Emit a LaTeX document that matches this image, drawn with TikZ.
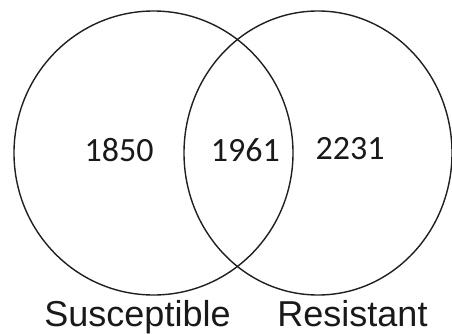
\documentclass[tikz,border=0pt]{standalone}
\usepackage{fontspec}
\newfontfamily\numfont{Carlito}
\newfontfamily\labfont{Liberation Sans}
\begin{document}
\begin{tikzpicture}[x=1pt,y=-1pt,
  setline/.style={draw=black!88,line width=1.4pt},
  numtxt/.style={font=\numfont\fontsize{34}{40}\selectfont,anchor=base,inner sep=0pt,text=black!90},
  labtxt/.style={font=\labfont\fontsize{36}{42}\selectfont,anchor=base,inner sep=0pt,text=black!90}]
\useasboundingbox (0,0) rectangle (452,334);
\draw[setline] (153.5,153) ellipse [x radius=139.5,y radius=142];
\draw[setline] (318,153) ellipse [x radius=134,y radius=142];
\node[numtxt] (a) at (119,161.7) {1850};
\node[numtxt] (b) at (245.3,161.7) {1961};
\node[numtxt] (c) at (350,159.5) {2231};
\node[labtxt] (s) at (137.5,326.5) {Susceptible};
\node[labtxt] (r) at (352.5,326.5) {Resistant};
\end{tikzpicture}
\end{document}
